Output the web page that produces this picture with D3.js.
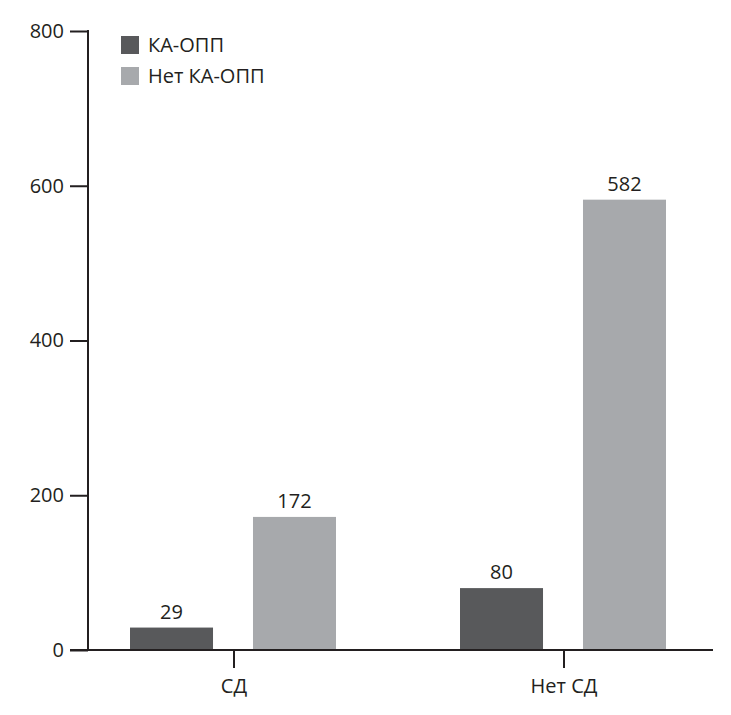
<!DOCTYPE html>
<html><head><meta charset="utf-8">
<script src="https://cdn.jsdelivr.net/npm/d3@7"></script>
<style>body{margin:0;background:#fff}svg{display:block}text{font-family:"Open Sans",sans-serif;fill:#231f20}</style>
</head><body><svg id="c" width="731" height="715"></svg>
<script>
const categories = ["СД", "Нет СД"];
const series = ["КА-ОПП", "Нет КА-ОПП"];
const valuesKA = [29, 80];
const valuesNoKA = [172, 582];
const yTicks = [0, 200, 400, 600, 800];
const colors = ["#58595b", "#a7a9ac"];

const svg = d3.select("#c");
const y = d3.scaleLinear().domain([0, 800]).range([650, 31]);
const x0 = d3.scaleBand().domain(categories).range([69, 729]);
const x1 = d3.scaleBand().domain(series).range([61, 267]).paddingInner(0.325).paddingOuter(0);
const data = categories.map((c, i) => ({cat: c, vals: [valuesKA[i], valuesNoKA[i]]}));

// y axis
const ya = svg.append("g").attr("transform", "translate(88,0)")
  .call(d3.axisLeft(y).tickValues(yTicks).tickSize(18).tickPadding(6).tickFormat(d3.format("d")));
ya.select(".domain").remove();
ya.selectAll("line").attr("stroke", "#231f20").attr("stroke-width", 2);
ya.selectAll("text").style("font-size", "20px").attr("fill", "#231f20").attr("font-family", "Open Sans");
svg.append("line").attr("x1", 88).attr("x2", 88).attr("y1", y(800) - 1).attr("y2", y(0))
  .attr("stroke", "#231f20").attr("stroke-width", 2);

// bars
const g = svg.append("g").selectAll("g").data(data).join("g")
  .attr("transform", d => `translate(${x0(d.cat)},0)`);
g.selectAll("rect").data(d => d.vals.map((v, j) => ({s: series[j], v, j}))).join("rect")
  .attr("x", d => x1(d.s)).attr("width", x1.bandwidth())
  .attr("y", d => y(d.v)).attr("height", d => y(0) - y(d.v))
  .attr("fill", d => colors[d.j]);
g.selectAll("text.v").data(d => d.vals.map((v, j) => ({s: series[j], v, j}))).join("text")
  .attr("class", "v")
  .attr("x", d => x1(d.s) + x1.bandwidth() / 2).attr("y", d => y(d.v) - 9)
  .attr("text-anchor", "middle").style("font-size", "20px").text(d => d.v);

// x axis
const xa = svg.append("g").attr("transform", "translate(0,650)")
  .call(d3.axisBottom(x0).tickSize(18).tickPadding(6));
xa.select(".domain").remove();
xa.selectAll("line").attr("stroke", "#231f20").attr("stroke-width", 2);
xa.selectAll("text").style("font-size", "20px").attr("fill", "#231f20").attr("font-family", "Open Sans").attr("dy", "0.95em");
svg.append("line").attr("x1", 70).attr("x2", 713).attr("y1", 650).attr("y2", 650)
  .attr("stroke", "#231f20").attr("stroke-width", 2);

// legend
const lg = svg.append("g");
series.forEach((s, i) => {
  lg.append("rect").attr("x", 121).attr("y", 36 + i * 31).attr("width", 18).attr("height", 18).attr("fill", colors[i]);
  lg.append("text").attr("x", 148).attr("y", 52 + i * 31).style("font-size", "20px").text(s);
});
</script></body></html>
